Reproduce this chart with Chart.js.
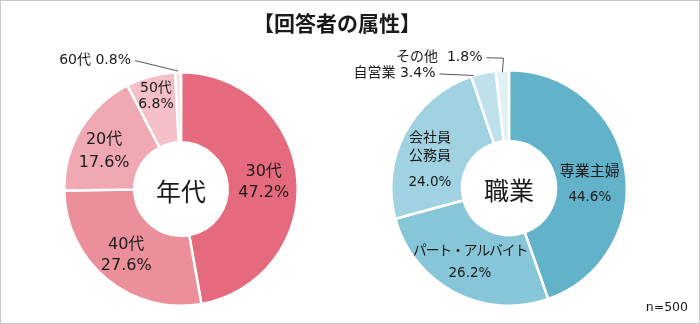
<!DOCTYPE html>
<html>
<head>
<meta charset="utf-8">
<script src="https://cdn.jsdelivr.net/npm/chart.js@4.4.1/dist/chart.umd.min.js"></script>
<style>
  html, body { margin: 0; padding: 0; background: #fff; }
  #wrap { position: relative; width: 700px; height: 324px; box-sizing: border-box; border: 1px solid #c8c8c8; overflow: hidden;
          font-family: "Noto Sans CJK JP", "Noto Sans", sans-serif; color: #1a1a1a; }
  canvas { position: absolute; top: -1px; }
  #title { position: absolute; left: 0; top: 6px; width: 672px; text-align: center; font-size: 21px; font-weight: bold; }
  #note { position: absolute; right: 11px; top: 298px; font-size: 12.5px; font-family: "DejaVu Sans", sans-serif; }
</style>
</head>
<body>
<div id="wrap">
  <canvas id="ageChart" width="350" height="324" style="left:-1px"></canvas>
  <canvas id="jobChart" width="350" height="324" style="left:349px"></canvas>
  <div id="title">【回答者の属性】</div>
  <div id="note">n=500</div>
</div>
<script>
// 年代
var ageLabels = ["30代", "40代", "20代", "50代", "60代"];
var ageValues = [47.2, 27.6, 17.6, 6.8, 0.8];
var ageColors = ["#E56A7D", "#EB909B", "#F0A9B2", "#F4BFC6", "#FAE0E4"];

// 職業
var jobLabels = ["専業主婦", "パート・アルバイト", "会社員公務員", "自営業", "その他"];
var jobValues = [44.6, 26.2, 24.0, 3.4, 1.8];
var jobColors = ["#62B2CA", "#87C6D8", "#A0D2E1", "#BFE1EB", "#E0F0F5"];

var FONT = '"DejaVu Sans", "Noto Sans CJK JP", sans-serif';
var TEXT = "#1a1a1a";

// label placement per slice (inside: radius + nudge, outside: leader line)
// lines: [text, font size, y offset from label centre]
var ageLabelCfg = [
  { lines: [["30代", 16, -10], ["{v}", 16, 11]], r: 83 },
  { lines: [["40代", 16, -10], ["{v}", 16, 11]], r: 86, dx: 0 },
  { lines: [["20代", 16, -11], ["{v}", 16, 12]], r: 85, dx: -4, dy: 6 },
  { lines: [["50代", 14, -8], ["{v}", 14, 8]], r: 96 },
  { outside: true, text: "60代 {v}", at: 0.5, r: 118, tx: -47, ty: -11, size: 14 }
];
var jobLabelCfg = [
  { lines: [["専業主婦", 15, -12], ["{v}", 13.5, 13]], r: 82, dy: 10 },
  { lines: [["パート・アルバイト", 14, -11, -1.3], ["{v}", 13.5, 11]], r: 84 },
  { lines: [["会社員", 14, -22], ["公務員", 14, -4], ["{v}", 13.5, 22]], r: 84, dx: -5, dy: 12 },
  { outside: true, text: "自営業 3.4%", at: 0.1, r: 118, tx: -38, ty: -2, size: 14 },
  { outside: true, text: "その他  1.8%", at: 0.5, r: 116, tx: -20, ty: -15, size: 14, elbow: true }
];

function fmt(v) { return v.toFixed(1) + "%"; }

function labelPlugin(cfgs, centerText) {
  return {
    id: "sliceLabels",
    afterDraw: function(chart) {
      var ctx = chart.ctx;
      var meta = chart.getDatasetMeta(0);
      var values = chart.data.datasets[0].data;
      ctx.save();
      ctx.fillStyle = TEXT;
      ctx.textBaseline = "middle";
      meta.data.forEach(function(arc, i) {
        var c = cfgs[i];
        var p = arc.getProps(["x", "y", "startAngle", "endAngle", "outerRadius"], true);
        var v = fmt(values[i]);
        if (c.outside) {
          var a = p.startAngle + c.at * (p.endAngle - p.startAngle);
          var ex = p.x + Math.cos(a) * c.r, ey = p.y + Math.sin(a) * c.r;
          var tx = ex + c.tx, ty = ey + c.ty;
          ctx.font = c.size + "px " + FONT;
          ctx.textAlign = "right";
          ctx.fillText(c.text.replace("{v}", v), tx, ty);
          ctx.strokeStyle = "#555";
          ctx.lineWidth = 1;
          ctx.beginPath();
          ctx.moveTo(tx + 4, ty + 0.5);
          if (c.elbow) {
            ctx.lineTo(ex + 1, ty + 1);
          }
          ctx.lineTo(ex, ey);
          ctx.stroke();
        } else {
          var m = (p.startAngle + p.endAngle) / 2;
          var cx = p.x + Math.cos(m) * c.r + (c.dx || 0);
          var cy = p.y + Math.sin(m) * c.r + (c.dy || 0);
          ctx.textAlign = "center";
          c.lines.forEach(function(ln) {
            ctx.font = ln[1] + "px " + FONT;
            ctx.letterSpacing = (ln[3] || 0) + "px";
            ctx.fillText(ln[0].replace("{v}", v), cx, cy + ln[2]);
          });
          ctx.letterSpacing = "0px";
        }
      });
      var a0 = meta.data[0];
      ctx.font = '25px "Noto Sans CJK JP", sans-serif';
      ctx.textAlign = "center";
      ctx.fillText(centerText, a0.x, a0.y + 2);
      ctx.restore();
    }
  };
}

function makeChart(id, labels, values, colors, cfgs, centerText, pad) {
  return new Chart(document.getElementById(id), {
    type: "doughnut",
    data: {
      labels: labels,
      datasets: [{
        data: values,
        backgroundColor: colors,
        borderColor: "#ffffff",
        borderWidth: 2.5
      }]
    },
    options: {
      responsive: false,
      animation: false,
      devicePixelRatio: 1,
      cutout: "40%",
      layout: { padding: pad },
      plugins: { legend: { display: false }, tooltip: { enabled: false } }
    },
    plugins: [labelPlugin(cfgs, centerText)]
  });
}

makeChart("ageChart", ageLabels, ageValues, ageColors, ageLabelCfg, "年代",
  { left: 63, right: 51, top: 71, bottom: 17 });
makeChart("jobChart", jobLabels, jobValues, jobColors, jobLabelCfg, "職業",
  { left: 40, right: 72, top: 69, bottom: 17 });
</script>
</body>
</html>
